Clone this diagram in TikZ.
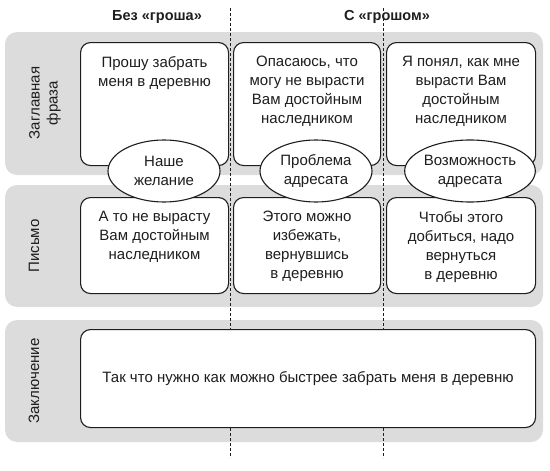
\documentclass[tikz,border=0pt]{standalone}
\usepackage{fontspec}
\setmainfont{Liberation Sans}
\usetikzlibrary{shapes.geometric}
\definecolor{band}{RGB}{220,220,220}
\definecolor{ink}{RGB}{30,30,30}
\begin{document}
\begin{tikzpicture}[x=1pt,y=-1pt,
  bandbox/.style={fill=band,draw=none,rounded corners=12pt},
  cellbox/.style={draw=ink,line width=1.1pt,fill=white,rounded corners=10pt,anchor=north west,inner sep=0pt},
  txt/.style={align=center,font=\fontsize{15}{19}\selectfont,inner sep=0pt,text=ink},
  oval/.style={ellipse,draw=ink,line width=1.1pt,fill=white,minimum height=62pt,inner sep=0pt,align=center,font=\fontsize{15}{19}\selectfont,text=ink},
  rowlab/.style={rotate=90,align=center,font=\fontsize{15}{18}\selectfont,inner sep=0pt,text=ink},
  head/.style={font=\bfseries\fontsize{14.5}{17}\selectfont,inner sep=0pt,text=ink},
  divider/.style={draw=ink,line width=1pt,dash pattern=on 3pt off 2pt}]
\useasboundingbox (0,0) rectangle (550,471);
% bands
\path[bandbox] (5,32) rectangle (543,175);
\path[bandbox] (5,185) rectangle (543,307);
\path[bandbox] (5,320) rectangle (543,442);
% dividers
\coordinate (d1t) at (230,8);
\coordinate (d1b) at (230,458);
\coordinate (d2t) at (383,8);
\coordinate (d2b) at (383,458);
\draw[divider] (d1t) -- (d1b);
\draw[divider] (d2t) -- (d2b);
% headers
\node[head] (h1) at (157,17) {Без «гроша»};
\node[head] (h2) at (387,17) {С «грошом»};
% row labels
\node[rowlab] (r1) at (45,103) {Заглавная\\фраза};
\node[rowlab] (r2) at (34,246) {Письмо};
\node[rowlab] (r3) at (34,381) {Заключение};
% row 1 boxes
\node[cellbox,minimum width=148pt,minimum height=123pt] (b11) at (80,42) {};
\node[cellbox,minimum width=147pt,minimum height=123pt] (b12) at (233,42) {};
\node[cellbox,minimum width=149pt,minimum height=123pt] (b13) at (386,42) {};
\node[txt,anchor=north] (t11) at ([yshift=-14pt]b11.north) {Прошу забрать\\меня в деревню};
\node[txt,anchor=north] (t12) at ([yshift=-14pt]b12.north) {Опасаюсь, что\\могу не вырасти\\Вам достойным\\наследником};
\node[txt,anchor=north] (t13) at ([yshift=-14pt]b13.north) {Я понял, как мне\\вырасти Вам\\достойным\\наследником};
% row 2 boxes
\node[cellbox,minimum width=148pt,minimum height=96pt] (b21) at (80,197) {};
\node[cellbox,minimum width=147pt,minimum height=96pt] (b22) at (233,197) {};
\node[cellbox,minimum width=149pt,minimum height=96pt] (b23) at (386,197) {};
\node[txt,anchor=north] (t21) at ([yshift=-14pt]b21.north) {А то не вырасту\\Вам достойным\\наследником};
\node[txt,anchor=north] (t22) at ([yshift=-14pt]b22.north) {Этого можно\\избежать,\\вернувшись\\в деревню};
\node[txt,anchor=north] (t23) at ([yshift=-14pt]b23.north) {Чтобы этого\\добиться, надо\\вернуться\\в деревню};
% row 3 box
\node[cellbox,minimum width=455pt,minimum height=98pt] (b31) at (80,329) {};
\node[txt] (t31) at (b31.center) {Так что нужно как можно быстрее забрать меня в деревню};
% ovals
\node[oval,minimum width=112pt] (e1) at (164,171) {Наше\\желание};
\node[oval,minimum width=112pt] (e2) at (316,171) {Проблема\\адресата};
\node[oval,minimum width=116pt] (e3) at (470,171) {Возможность\\адресата};
\end{tikzpicture}
\end{document}
